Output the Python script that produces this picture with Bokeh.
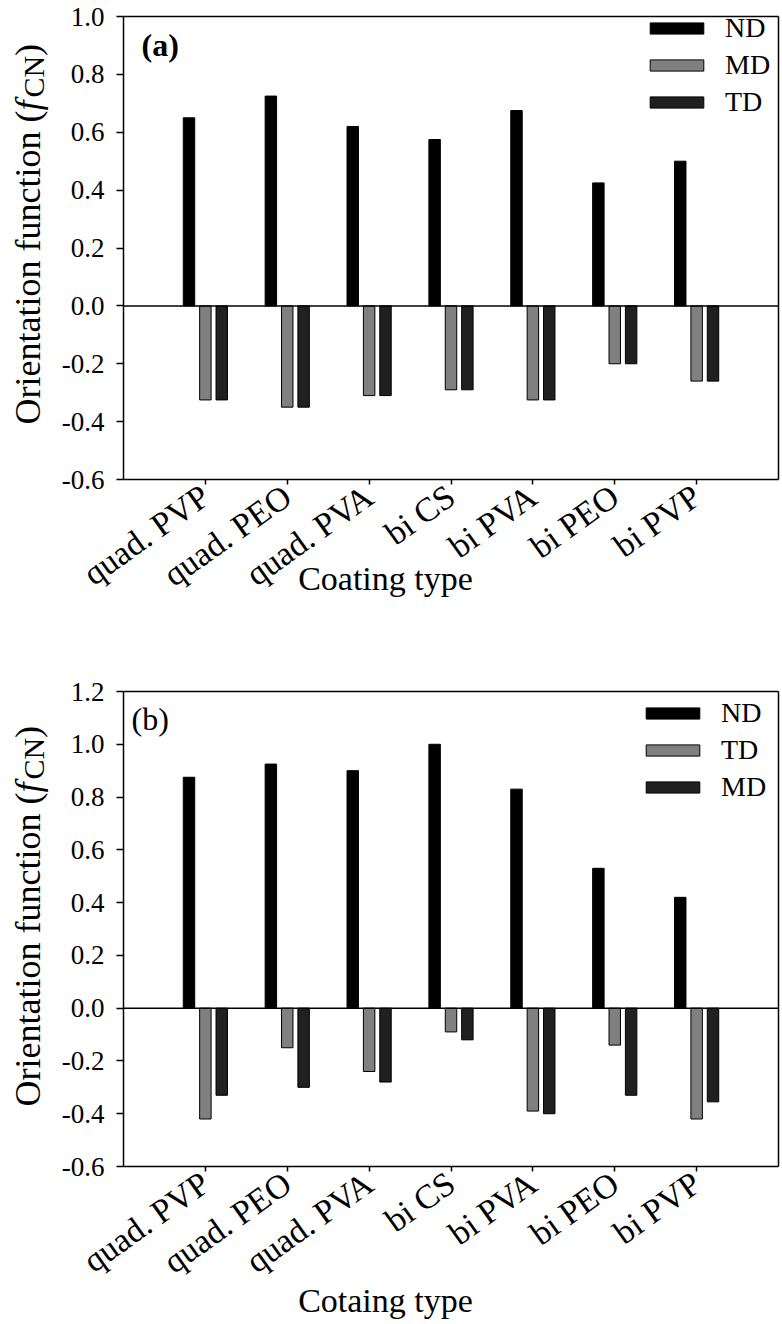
import math
from bokeh.plotting import figure
from bokeh.models import Range1d, FixedTicker, Legend, LinearAxis
from bokeh.core.properties import value
from bokeh.layouts import column
from bokeh.embed import file_html
from bokeh.resources import INLINE

categories = ["quad. PVP", "quad. PEO", "quad. PVA", "bi CS", "bi PVA", "bi PEO", "bi PVP"]

# Panel (a)
a_nd = [0.65, 0.725, 0.62, 0.575, 0.675, 0.425, 0.50]
a_md = [-0.325, -0.35, -0.31, -0.29, -0.325, -0.20, -0.26]
a_td = [-0.325, -0.35, -0.31, -0.29, -0.325, -0.20, -0.26]

# Panel (b)
b_nd = [0.875, 0.925, 0.90, 1.0, 0.83, 0.53, 0.42]
b_td = [-0.42, -0.15, -0.24, -0.09, -0.39, -0.14, -0.42]
b_md = [-0.33, -0.30, -0.28, -0.12, -0.40, -0.33, -0.355]

a_yticks = [-0.6, -0.4, -0.2, 0.0, 0.2, 0.4, 0.6, 0.8, 1.0]
b_yticks = [-0.6, -0.4, -0.2, 0.0, 0.2, 0.4, 0.6, 0.8, 1.0, 1.2]

FONT = "Liberation Serif"
BLACK = "#000000"
GRAY = "#808080"
DARK = "#202020"

W = 780
AX_L, AX_R = 123, 778     # page x of plot box
XMIN, XMAX = 0, 8


def make_panel(height, box_top, box_bot, ymin, ymax, yticks, s1, s2, s3, names,
               tag, tag_px, xlabel, xlabel_px, ylab_start, legend_loc):
    sx = (AX_R - AX_L) / (XMAX - XMIN)
    sy = (box_bot - box_top) / (ymax - ymin)

    def X(px):
        return XMIN + (px - AX_L) / sx

    def Y(py):
        return ymax - (py - box_top) / sy

    p = figure(width=W, height=height, output_backend="svg", toolbar_location=None,
               x_range=Range1d(X(0), X(W)), y_range=Range1d(Y(height), Y(0)),
               min_border_left=0, min_border_right=0, min_border_top=0, min_border_bottom=0)
    p.xgrid.visible = False
    p.ygrid.visible = False
    p.outline_line_color = None

    idx = list(range(1, len(categories) + 1))
    x1 = [i - 0.2 for i in idx]
    x2 = [i for i in idx]
    x3 = [i + 0.2 for i in idx]
    w = 0.14
    r1 = p.vbar(x=x1, top=s1, bottom=0, width=w, fill_color=BLACK, line_color="black", line_width=1)
    r2 = p.vbar(x=x2, top=s2, bottom=0, width=w, fill_color=GRAY, line_color="black", line_width=1)
    r3 = p.vbar(x=x3, top=s3, bottom=0, width=w, fill_color=DARK, line_color="black", line_width=1)

    # zero line across the plot box
    p.segment(x0=[XMIN], y0=[0], x1=[XMAX], y1=[0], line_color="black", line_width=1.5)

    # left axis
    yax = p.yaxis[0]
    yax.fixed_location = XMIN
    yax.bounds = (ymin, ymax)
    yax.ticker = FixedTicker(ticks=yticks)
    yax.major_label_overrides = {t: f"{t:.1f}" for t in yticks}
    yax.minor_tick_line_color = None
    yax.major_tick_in = 0
    yax.major_tick_out = 7
    yax.major_label_standoff = 12
    yax.major_label_text_font = FONT
    yax.major_label_text_font_size = "27px"
    yax.major_label_text_color = "black"
    yax.axis_line_width = 1.5
    yax.major_tick_line_width = 1.5

    # bottom axis
    xax = p.xaxis[0]
    xax.fixed_location = ymin
    xax.bounds = (XMIN, XMAX)
    xax.ticker = FixedTicker(ticks=idx)
    xax.major_label_overrides = {i: c for i, c in zip(idx, categories)}
    xax.minor_tick_line_color = None
    xax.major_tick_in = 0
    xax.major_tick_out = 5
    xax.major_label_orientation = 0.62
    xax.major_label_standoff = 8
    xax.major_label_text_font = FONT
    xax.major_label_text_font_size = "34px"
    xax.major_label_text_color = "black"
    xax.axis_line_width = 1.5
    xax.major_tick_line_width = 1.5

    # right and top box edges as plain axes
    rax = LinearAxis(fixed_location=XMAX, bounds=(ymin, ymax), ticker=FixedTicker(ticks=[]),
                     major_label_text_font_size="0px", axis_line_width=1.5,
                     major_tick_line_color=None, minor_tick_line_color=None)
    p.add_layout(rax, "right")
    tax = LinearAxis(fixed_location=ymax, bounds=(XMIN, XMAX), ticker=FixedTicker(ticks=[]),
                     major_label_text_font_size="0px", axis_line_width=1.5,
                     major_tick_line_color=None, minor_tick_line_color=None)
    p.add_layout(tax, "above")

    # x-axis title
    p.text(x=[X(xlabel_px[0])], y=[Y(xlabel_px[1])], text=[xlabel], text_font=value(FONT),
           text_font_size="34px", text_color="black", text_align="center",
           text_baseline="middle")

    # y-axis title: Orientation function (f_CN)
    fs = 36
    bx = X(27)
    ang = math.pi / 2
    py = ylab_start
    p.text(x=[bx], y=[Y(py)], text=["Orientation function ("], angle=ang,
           text_font=value(FONT), text_font_size=f"{fs}px", text_color="black",
           text_align="left", text_baseline="alphabetic")
    py -= 8.721 * fs
    p.text(x=[bx], y=[Y(py)], text=["f"], angle=ang,
           text_font=value(FONT), text_font_style="italic", text_font_size=f"{fs}px",
           text_color="black", text_align="left", text_baseline="alphabetic")
    py -= 0.36 * fs
    p.text(x=[X(33)], y=[Y(py)], text=["CN"], angle=ang,
           text_font=value(FONT), text_font_size="30px", text_color="black",
           text_align="left", text_baseline="alphabetic")
    py -= 1.389 * 30
    p.text(x=[bx], y=[Y(py)], text=[")"], angle=ang,
           text_font=value(FONT), text_font_size=f"{fs}px", text_color="black",
           text_align="left", text_baseline="alphabetic")

    # panel tag
    p.text(x=[X(tag_px[0])], y=[Y(tag_px[1])], text=[tag], text_font=value(FONT),
           text_font_size="32px", text_color="black",
           text_font_style="bold" if tag == "(a)" else "normal",
           text_align="left", text_baseline="middle")

    legend = Legend(items=[(names[0], [r1]), (names[1], [r2]), (names[2], [r3])],
                    location=legend_loc)
    legend.border_line_color = None
    legend.background_fill_alpha = 0
    legend.glyph_width = 67
    legend.glyph_height = 14
    legend.label_text_font = FONT
    legend.label_text_font_size = "28px"
    legend.label_text_color = "black"
    legend.label_standoff = 15
    legend.label_height = 22
    legend.spacing = 5
    legend.padding = 4
    p.add_layout(legend)
    return p


H1, H2 = 640, 684
pa = make_panel(H1, 16, 479, -0.6, 1.0, a_yticks, a_nd, a_md, a_td, ["ND", "MD", "TD"],
                "(a)", (141, 44), "Coating type", (385, 578), 424, (643, H1 - 118))
pb = make_panel(H2, 51, 526, -0.6, 1.2, b_yticks, b_nd, b_td, b_md, ["ND", "TD", "MD"],
                "(b)", (131, 78), "Cotaing type", (385, 660), 466, (639, H2 - 163))

layout = column(pa, pb, spacing=0)
open("out.html", "w").write(file_html(layout, INLINE))
